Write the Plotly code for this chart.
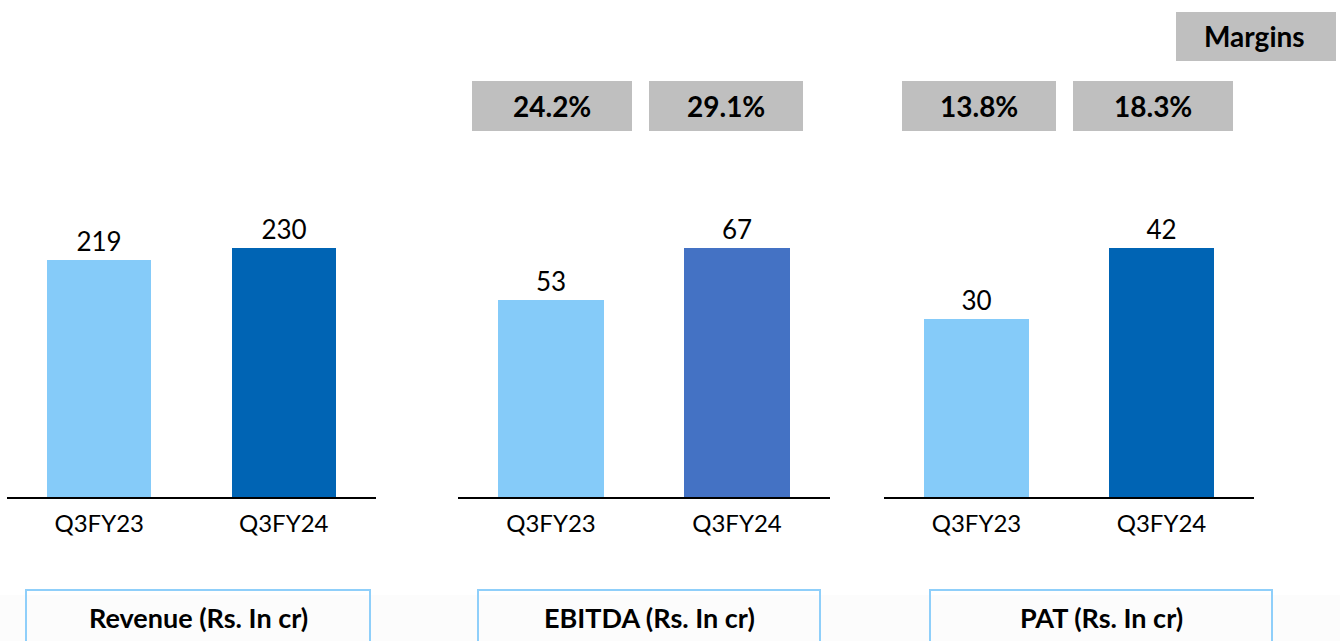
import plotly.graph_objects as go

categories = ["Q3FY23", "Q3FY24"]
revenue = [219, 230]
ebitda = [53, 67]
pat = [30, 42]
ebitda_margin = ["24.2%", "29.1%"]
pat_margin = ["13.8%", "18.3%"]
panel_titles = ["Revenue (Rs. In cr)", "EBITDA (Rs. In cr)", "PAT (Rs. In cr)"]

W, H = 1340, 641
FONT = "Lato"
LIGHT = "#85CBF9"
colors_dark = ["#0064B4", "#4472C4", "#0064B4"]

def px(x):
    return x / W

def py(y):
    return 1 - y / H

fig = go.Figure()
series = [revenue, ebitda, pat]
xdomains = [(7, 376), (458, 830), (884, 1254)]
baseline = 497
tallest = 249

for i, vals in enumerate(series):
    n = "" if i == 0 else str(i + 1)
    fig.add_trace(go.Bar(
        x=categories, y=vals,
        marker=dict(color=[LIGHT, colors_dark[i]], line=dict(width=0)),
        width=0.565,
        text=[str(v) for v in vals], textposition="outside",
        textfont=dict(family=FONT, size=26, color="#000000"),
        cliponaxis=False,
        xaxis="x" + n, yaxis="y" + n, showlegend=False,
    ))
    d = xdomains[i]
    ymax = max(vals) * baseline / tallest
    fig.update_layout(**{
        "xaxis" + n: dict(domain=[px(d[0]), px(d[1])], range=[-0.5, 1.5],
                          showline=True, linecolor="#000000", linewidth=1.5,
                          ticks="", showgrid=False, zeroline=False,
                          ticklabelstandoff=4,
                          tickfont=dict(family=FONT, size=24, color="#000000"),
                          anchor="y" + n, fixedrange=True),
        "yaxis" + n: dict(domain=[py(baseline), 1], range=[0, ymax], visible=False,
                          anchor="x" + n, fixedrange=True),
    })

shapes = []
annotations = []

# bottom band
shapes.append(dict(type="rect", xref="paper", yref="paper", x0=0, x1=1,
                   y0=py(645), y1=py(595), fillcolor="#FCFCFC", line=dict(width=0), layer="below"))

# panel title boxes
boxes = [(26, 370), (478, 820), (930, 1272)]
for (x0, x1), title in zip(boxes, panel_titles):
    shapes.append(dict(type="rect", xref="paper", yref="paper", x0=px(x0), x1=px(x1),
                       y0=py(645), y1=py(590), fillcolor="rgba(0,0,0,0)",
                       line=dict(color="#8FCFFA", width=2)))
    annotations.append(dict(xref="paper", yref="paper", x=px((x0 + x1) / 2), y=py(617),
                            text="<b>" + title + "</b>", showarrow=False,
                            font=dict(family=FONT, size=27, color="#000000"),
                            xanchor="center", yanchor="middle"))

# margin boxes
margin_boxes = [((472, 632), ebitda_margin[0]), ((649, 803), ebitda_margin[1]),
                ((902, 1056), pat_margin[0]), ((1073, 1233), pat_margin[1])]
for (x0, x1), txt in margin_boxes:
    shapes.append(dict(type="rect", xref="paper", yref="paper", x0=px(x0), x1=px(x1),
                       y0=py(131), y1=py(81), fillcolor="#BFBFBF", line=dict(width=0)))
    annotations.append(dict(xref="paper", yref="paper", x=px((x0 + x1) / 2), y=py(106),
                            text="<b>" + txt + "</b>", showarrow=False,
                            font=dict(family=FONT, size=28, color="#000000"),
                            xanchor="center", yanchor="middle"))

shapes.append(dict(type="rect", xref="paper", yref="paper", x0=px(1176), x1=px(1336),
                   y0=py(61), y1=py(12), fillcolor="#BFBFBF", line=dict(width=0)))
annotations.append(dict(xref="paper", yref="paper", x=px(1254), y=py(36),
                        text="<b>Margins</b>", showarrow=False,
                        font=dict(family=FONT, size=28, color="#000000"),
                        xanchor="center", yanchor="middle"))

fig.update_layout(width=W, height=H, margin=dict(l=0, r=0, t=0, b=0),
                  paper_bgcolor="#FFFFFF", plot_bgcolor="rgba(0,0,0,0)",
                  shapes=shapes, annotations=annotations, bargap=0)

fig.write_html("out.html", config={"displayModeBar": False},
               post_script="document.body.style.margin='0px';document.body.style.overflow='hidden';")
